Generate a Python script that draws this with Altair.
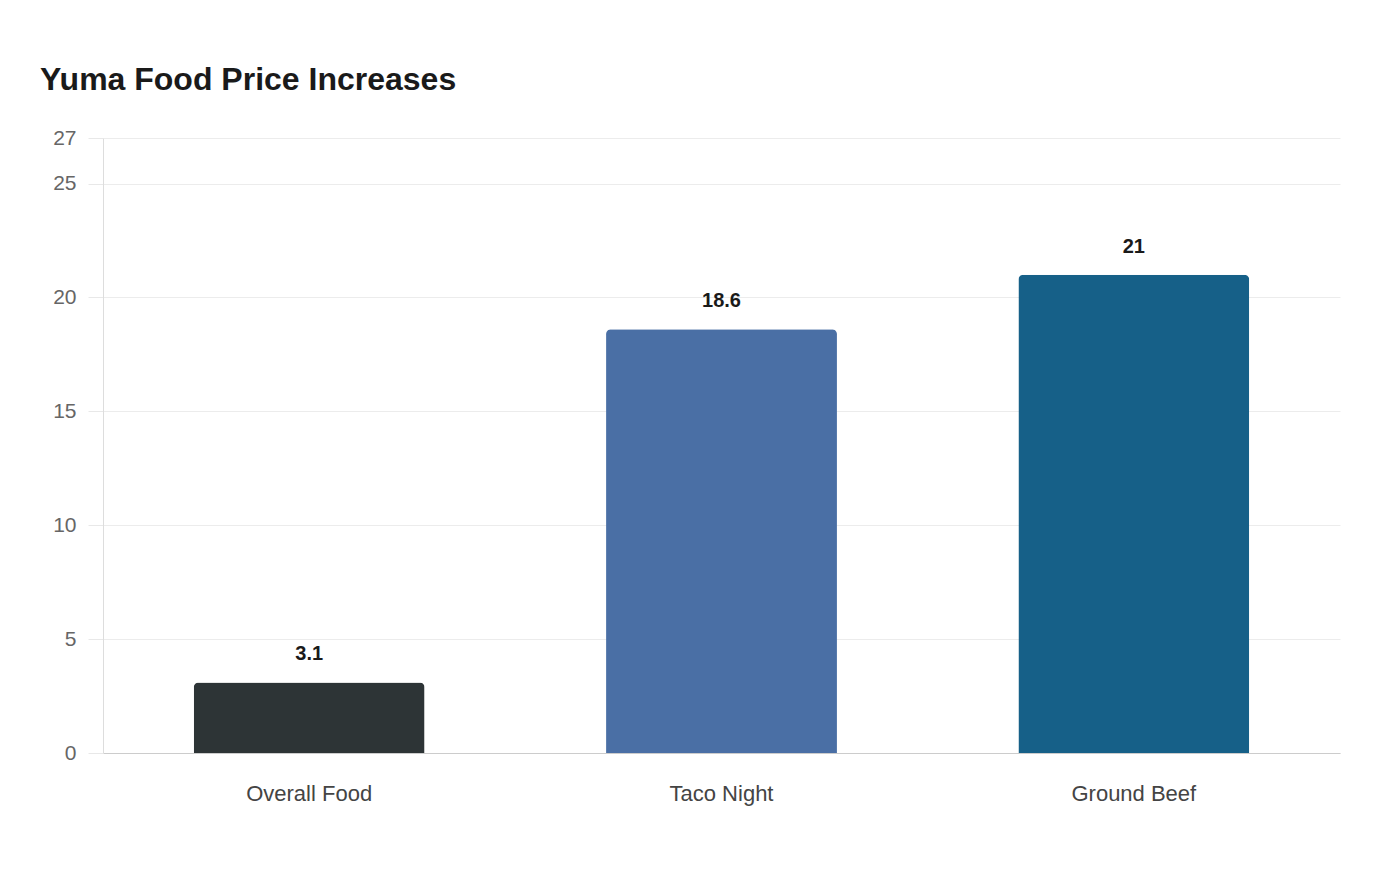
import altair as alt
import pandas as pd

categories = ["Overall Food", "Taco Night", "Ground Beef"]
increases = [3.1, 18.6, 21]
bar_colors = ["#2d3436", "#4a6fa5", "#166088"]
y_ticks = [0, 5, 10, 15, 20, 25, 27]

df = pd.DataFrame({"category": categories, "value": increases})

base = alt.Chart(df).encode(
    x=alt.X(
        "category:N",
        sort=categories,
        title=None,
        scale=alt.Scale(paddingInner=0.44, paddingOuter=0.22),
        axis=alt.Axis(
            labelAngle=0, labelFontSize=22, labelColor="#444444", labelPadding=30,
            ticks=False, grid=False, domainColor="#cccccc", labelFont="Liberation Sans",
        ),
    ),
    y=alt.Y(
        "value:Q",
        title=None,
        scale=alt.Scale(domain=[0, 27], nice=False),
        axis=alt.Axis(
            values=y_ticks, labelFontSize=21, labelColor="#666666", labelPadding=12,
            tickSize=15, tickColor="#e8e8e8", gridColor="#ececec", domainColor="#dddddd",
            labelFont="Liberation Sans",
        ),
    ),
)

bars = base.mark_bar(cornerRadiusTopLeft=5, cornerRadiusTopRight=5).encode(
    color=alt.Color("category:N", scale=alt.Scale(domain=categories, range=bar_colors), legend=None)
)

labels = base.mark_text(
    baseline="bottom", dy=-18, fontSize=20, fontWeight="bold", color="#1a1a1a", font="Liberation Sans"
).encode(text=alt.Text("value:Q"))

chart = (bars + labels).properties(
    width=1237,
    height=615,
    autosize=alt.AutoSizeParams(type="none"),
    padding={"left": 95, "top": 130, "right": 52, "bottom": 110},
    title=alt.TitleParams(
        "Yuma Food Price Increases", anchor="start", frame="group", dx=-63, offset=5,
        baseline="alphabetic", fontSize=32, fontWeight="bold", color="#1a1a1a",
        font="Liberation Sans",
    ),
).configure_view(stroke=None)

chart.save("out.html", embed_options={"renderer": "svg", "actions": False})
